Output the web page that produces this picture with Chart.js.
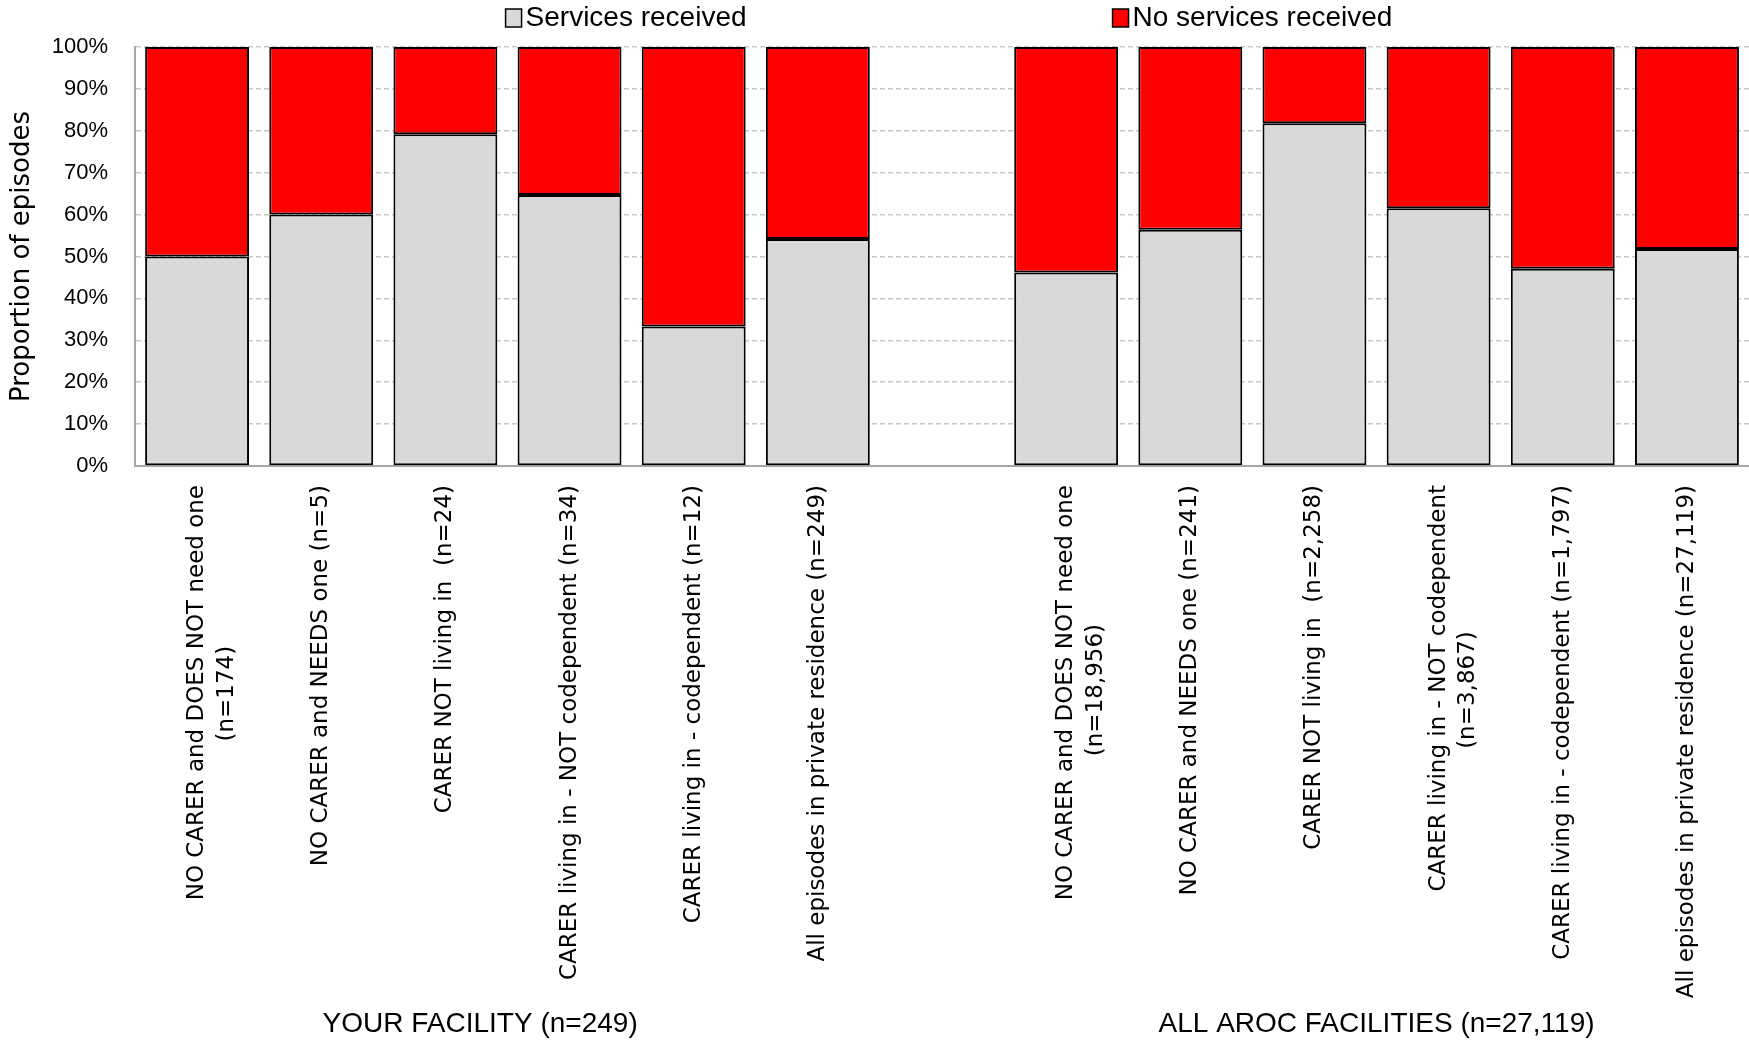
<!DOCTYPE html>
<html>
<head>
<meta charset="utf-8">
<script src="https://cdn.jsdelivr.net/npm/chart.js@4.4.0/dist/chart.umd.min.js"></script>
<style>
  html, body { margin: 0; padding: 0; background: #fff; }
  #wrap { width: 1749px; height: 1045px; position: relative; }
</style>
</head>
<body>
<div id="wrap"><canvas id="chart"></canvas></div>
<script>
// Data
const categories = [
  ['NO CARER and DOES NOT need one', '(n=174)'],
  'NO CARER and NEEDS one (n=5)',
  'CARER NOT living in  (n=24)',
  'CARER living in - NOT codependent (n=34)',
  'CARER living in - codependent (n=12)',
  'All episodes in private residence (n=249)',
  '',
  ['NO CARER and DOES NOT need one', '(n=18,956)'],
  'NO CARER and NEEDS one (n=241)',
  'CARER NOT living in  (n=2,258)',
  ['CARER living in - NOT codependent', '(n=3,867)'],
  'CARER living in - codependent (n=1,797)',
  'All episodes in private residence (n=27,119)'
];
const servicesReceived   = [50.0, 60.0, 79.2, 64.7, 33.3, 54.2, null, 46.2, 56.4, 81.8, 61.5, 47.1, 51.8];
const noServicesReceived = [50.0, 40.0, 20.8, 35.3, 66.7, 45.8, null, 53.8, 43.6, 18.2, 38.5, 52.9, 48.2];
const seriesNames = ['Services received', 'No services received'];
const groupLabels = ['YOUR FACILITY (n=249)', 'ALL AROC FACILITIES (n=27,119)'];
const groupCenters = [2.28, 9.5];   // category index under which each group label sits

const labelFont = '23px "DejaVu Sans"';
const plainFamily = '"Liberation Sans", Arial, sans-serif';

// pad the short second line so it sits centred under the first once rotated
const measureCtx = document.createElement('canvas').getContext('2d');
measureCtx.font = labelFont;
function centreLines(lbl) {
  if (!Array.isArray(lbl)) return lbl;
  const w0 = measureCtx.measureText(lbl[0]).width;
  const sp = measureCtx.measureText(' ').width;
  return lbl.map((line, i) => {
    if (i === 0) return line;
    const extra = (w0 - measureCtx.measureText(line).width) / 2;
    return line + ' '.repeat(Math.max(0, Math.round(extra / sp)));
  });
}

// Legend drawn at the top, spread like the original
const legendPlugin = {
  id: 'topLegend',
  afterDraw(chart) {
    const ctx = chart.ctx;
    const area = chart.chartArea;
    ctx.save();
    ctx.font = '28px ' + plainFamily;
    ctx.textBaseline = 'middle';
    const box = 16, gapText = 4, gapItems = 366;
    const widths = chart.data.datasets.map(d => box + gapText + ctx.measureText(d.label).width);
    const total = widths[0] + gapItems + widths[1];
    let x = (area.left + area.right) / 2 + 7 - total / 2;
    chart.data.datasets.forEach((d, i) => {
      ctx.fillStyle = d.backgroundColor;
      ctx.fillRect(x, 9, box, 18);
      ctx.strokeStyle = '#000';
      ctx.lineWidth = 1.5;
      ctx.strokeRect(x, 9, box, 18);
      ctx.fillStyle = '#000';
      ctx.fillText(d.label, x + box + gapText, 18);
      x += widths[i] + gapItems;
    });
    ctx.restore();
  }
};

// Group labels under the category labels
const groupPlugin = {
  id: 'groupLabels',
  afterDraw(chart) {
    const ctx = chart.ctx;
    const xScale = chart.scales.x;
    ctx.save();
    ctx.font = '28px ' + plainFamily;
    ctx.fillStyle = '#000';
    ctx.textAlign = 'center';
    ctx.textBaseline = 'middle';
    groupLabels.forEach((g, i) => {
      ctx.fillText(g, xScale.getPixelForValue(groupCenters[i]), 1024);
    });
    ctx.restore();
  }
};

const ctx = document.getElementById('chart').getContext('2d');
new Chart(ctx, {
  type: 'bar',
  data: {
    labels: categories,
    datasets: [
      {
        label: seriesNames[0],
        data: servicesReceived,
        backgroundColor: '#d9d9d9',
        borderColor: '#000',
        borderWidth: 2,
        borderSkipped: false
      },
      {
        label: seriesNames[1],
        data: noServicesReceived,
        backgroundColor: '#ff0000',
        borderColor: '#000',
        borderWidth: 2,
        borderSkipped: false
      }
    ]
  },
  options: {
    responsive: true,
    maintainAspectRatio: false,
    animation: false,
    datasets: { bar: { categoryPercentage: 1, barPercentage: 0.837 } },
    layout: { padding: { top: 47, left: 0, right: 0, bottom: 0 } },
    plugins: {
      legend: { display: false },
      tooltip: { enabled: false }
    },
    scales: {
      x: {
        stacked: true,
        grid: { display: false, drawTicks: false },
        border: { display: true, color: '#a6a6a6', width: 2 },
        ticks: {
          autoSkip: false,
          minRotation: 90,
          maxRotation: 90,
          padding: 19,
          color: '#000',
          font: { family: 'DejaVu Sans', size: 23, lineHeight: 1.3 },
          callback: function (value) {
            return centreLines(this.getLabelForValue(value));
          }
        },
        afterFit(scale) { scale.height = 1045 - 466; }
      },
      y: {
        stacked: true,
        min: 0,
        max: 100,
        grid: { color: '#c8c8c8', lineWidth: 1.5, drawTicks: false },
        border: { display: true, color: '#a6a6a6', width: 2, dash: [5, 3] },
        ticks: {
          stepSize: 10,
          padding: 27,
          color: '#000',
          font: { family: 'Liberation Sans', size: 22 },
          callback: v => v + '%'
        },
        title: {
          display: true,
          text: 'Proportion of episodes',
          color: '#000',
          font: { family: 'DejaVu Sans', size: 26 },
          padding: { top: 7, bottom: 0 }
        },
        afterFit(scale) { scale.width = 135; }
      }
    }
  },
  plugins: [legendPlugin, groupPlugin]
});
</script>
</body>
</html>
